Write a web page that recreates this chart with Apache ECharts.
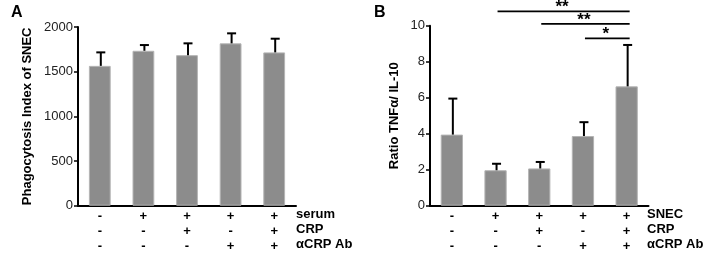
<!DOCTYPE html>
<html><head><meta charset="utf-8">
<script src="https://cdn.jsdelivr.net/npm/echarts@6/dist/echarts.min.js"></script>
<style>html,body{margin:0;padding:0;background:#fff}#c{width:709px;height:259px}</style>
</head><body><div id="c"></div>
<script>
// Panel A
const catsA = ['-\n-\n-', '+\n-\n-', '+\n+\n-', '+\n-\n+', '+\n+\n+'];
const meanA = [1565, 1734, 1685, 1817, 1716];
const errTopA = [1716, 1798, 1817, 1929, 1869];
const ticksA = [0, 500, 1000, 1500, 2000];
const rowLabelsA = ['serum', 'CRP', 'αCRP Ab'];
// Panel B
const catsB = ['-\n-\n-', '+\n-\n-', '+\n+\n-', '+\n-\n+', '+\n+\n+'];
const meanB = [3.95, 1.97, 2.07, 3.87, 6.63];
const errTopB = [5.95, 2.33, 2.43, 4.64, 8.93];
const ticksB = [0, 2, 4, 6, 8, 10];
const rowLabelsB = ['SNEC', 'CRP', 'αCRP Ab'];
// significance brackets: [fromIndex, toIndex, y, label]
const sigB = [[1, 4, 10.8, '**'], [2, 4, 10.1, '**'], [3, 4, 9.3, '*']];

const FONT = 'Liberation Sans, Arial, sans-serif';
const chart = echarts.init(document.getElementById('c'));

function errSeries(xi, yi, tops, means) {
  return {
    type: 'custom', xAxisIndex: xi, yAxisIndex: yi, z: 3,
    data: means.map((m, i) => [i, m, tops[i]]),
    renderItem: function (params, api) {
      const b = api.coord([api.value(0), api.value(1)]);
      const t = api.coord([api.value(0), api.value(2)]);
      const x = b[0] + 1;
      const st = {stroke: '#000', lineWidth: 2};
      return {type: 'group', children: [
        {type: 'line', shape: {x1: x, y1: b[1], x2: x, y2: t[1]}, style: st},
        {type: 'line', shape: {x1: x - 4.5, y1: t[1], x2: x + 4.5, y2: t[1]}, style: st}
      ]};
    }
  };
}

function yAxis(gi, max, interval, name, gap) {
  return {
    type: 'value', gridIndex: gi, min: 0, max: max, interval: interval,
    name: name, nameLocation: 'middle', nameGap: gap,
    nameTextStyle: {fontFamily: FONT, fontWeight: 'bold', fontSize: 13, color: '#000'},
    axisLine: {show: true, lineStyle: {color: '#000', width: 2}},
    axisTick: {show: true, length: 4, lineStyle: {color: '#000', width: 1.5}},
    axisLabel: {fontFamily: FONT, fontSize: 13, color: '#222', margin: 5, formatter: v => String(v)},
    splitLine: {show: false}
  };
}
function xAxis(gi, cats) {
  return {
    type: 'category', gridIndex: gi, data: cats,
    axisLine: {lineStyle: {color: '#000', width: 2}},
    axisTick: {show: false},
    axisLabel: {fontFamily: FONT, fontSize: 13, fontWeight: 'bold', color: '#000', lineHeight: 15, margin: 3}
  };
}

const option = {
  animation: false,
  grid: [
    {left: 78, top: 27, width: 218, height: 178.7},
    {left: 430, top: 25.7, width: 218.5, height: 180}
  ],
  xAxis: [xAxis(0, catsA), xAxis(1, catsB)],
  yAxis: [
    yAxis(0, 2000, 500, 'Phagocytosis Index of SNEC', 44),
    yAxis(1, 10, 2, 'Ratio TNFα/ IL-10', 29)
  ],
  series: [
    {type: 'bar', xAxisIndex: 0, yAxisIndex: 0, data: meanA, barWidth: '50%',
     itemStyle: {color: '#8c8c8c', borderColor: '#b4b4b4', borderWidth: 1}},
    errSeries(0, 0, errTopA, meanA),
    {type: 'bar', xAxisIndex: 1, yAxisIndex: 1, data: meanB, barWidth: '51%',
     itemStyle: {color: '#8c8c8c', borderColor: '#b4b4b4', borderWidth: 1}},
    errSeries(1, 1, errTopB, meanB),
    {
      type: 'custom', xAxisIndex: 1, yAxisIndex: 1, clip: false, z: 4,
      data: sigB,
      renderItem: function (params, api) {
        const a = api.coord([api.value(0), api.value(2)]);
        const b = api.coord([api.value(1), api.value(2)]);
        const lbl = sigB[params.dataIndex][3];
        return {type: 'group', children: [
          {type: 'line', shape: {x1: a[0] + 2, y1: a[1], x2: b[0] + 3, y2: b[1]}, style: {stroke: '#000', lineWidth: 1.8}},
          {type: 'text', style: {text: lbl, x: (a[0] + b[0]) / 2 + 1, y: a[1] + 5, align: 'center', verticalAlign: 'bottom',
            font: 'bold 17px ' + FONT, fill: '#000'}}
        ]};
      }
    }
  ],
  graphic: [
    {type: 'text', left: 11, top: 5, style: {text: 'A', font: 'bold 16px ' + FONT, fill: '#000'}},
    {type: 'text', left: 374, top: 5, style: {text: 'B', font: 'bold 16px ' + FONT, fill: '#000'}}
  ].concat(rowLabelsA.map((t, i) => ({type: 'text', left: 296, top: 208 + i * 15,
      style: {text: t, font: 'bold 13px ' + FONT, fill: '#000'}})))
   .concat(rowLabelsB.map((t, i) => ({type: 'text', left: 647, top: 208 + i * 15,
      style: {text: t, font: 'bold 13px ' + FONT, fill: '#000'}})))
};
chart.setOption(option);
</script></body></html>
